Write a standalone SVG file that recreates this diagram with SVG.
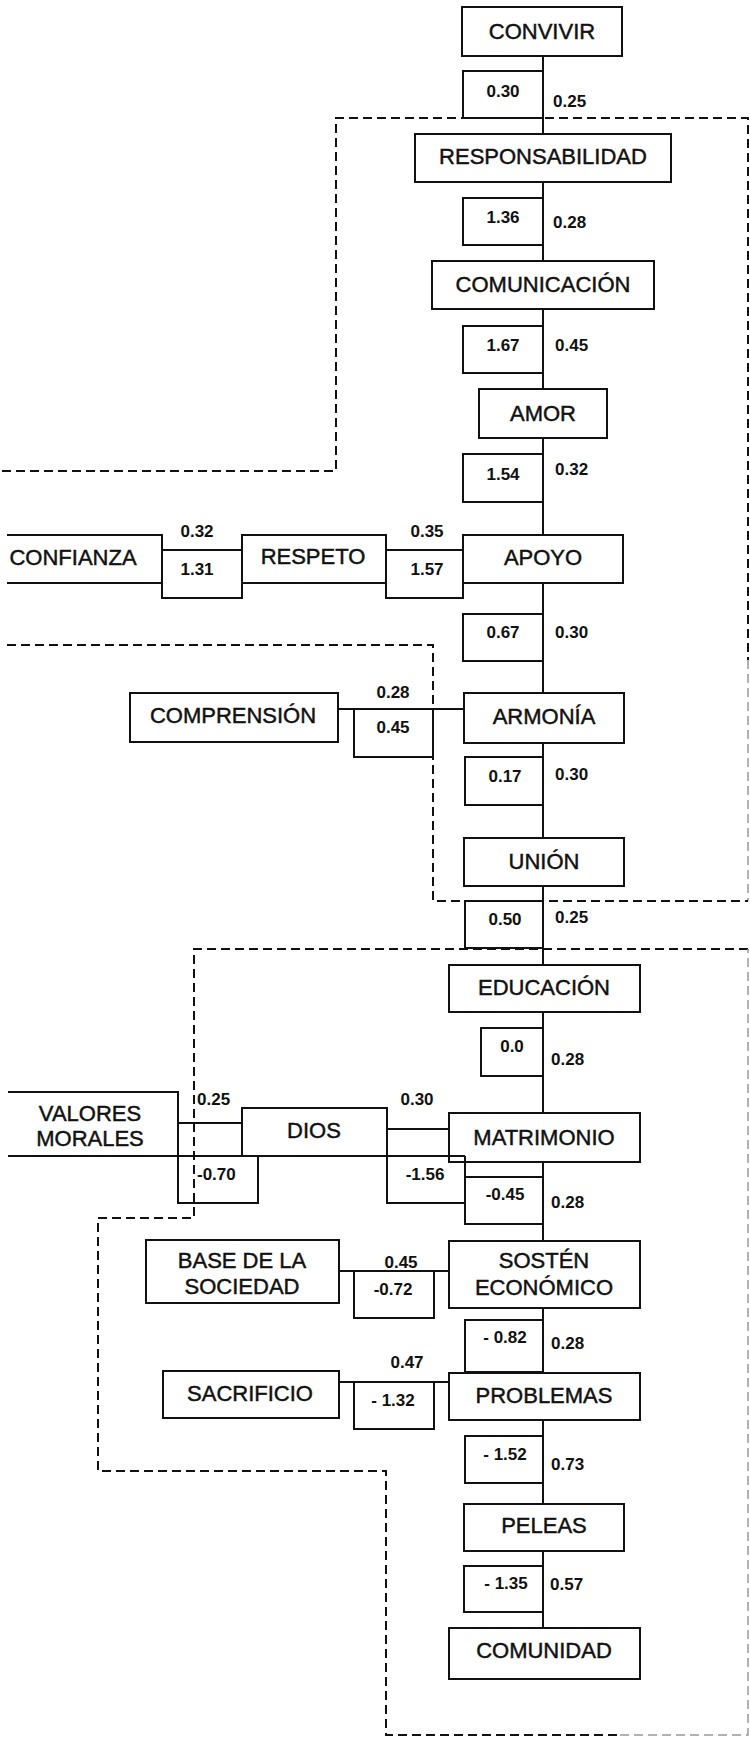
<svg xmlns="http://www.w3.org/2000/svg" width="750" height="1737" viewBox="0 0 750 1737">
<style>
.box{fill:#fff;stroke:#111;stroke-width:2}
.ln{fill:none;stroke:#111;stroke-width:2}
.dash{fill:none;stroke:#111;stroke-width:2;stroke-dasharray:9 5}
.faint{fill:none;stroke:#999;stroke-width:1.5;stroke-dasharray:9 5}
.lbl{font-family:"Liberation Sans",Arial,sans-serif;font-size:22px;text-anchor:middle;fill:#111;stroke:#111;stroke-width:0.45}
.num{font-family:"Liberation Sans",Arial,sans-serif;font-size:17px;font-weight:bold;fill:#111}
.c{text-anchor:middle}
</style>
<rect width="750" height="1737" fill="#fff"/>

<g id="regions">
<path class="dash" d="M2 471H336V118H748V660"/>
<path class="faint" d="M748 660V901"/>
<path class="dash" d="M7 645H433V901H748"/>
<path class="dash" d="M748 949H194V1218H98V1471H386V1735H620"/>
<path class="faint" d="M620 1735H748V949"/>
</g>

<g id="connectors">
<path class="ln" d="M543 56V134M543 182V261M543 309V389M543 438V535M543 583V693M543 743V838M543 886V965M543 1012V1113M543 1162V1241M543 1308V1373M543 1420V1504M543 1551V1628"/>
<path class="ln" d="M162 550H242M386 550H463M338 709H464M178 1123H242M387 1129H449M339 1271H449M339 1382H449"/>
</g>

<g id="weights">
<path class="ln" d="M543 71H463V118H543M543 198H463V245H543M543 326H463V373H543M543 454H463V502H543M543 614H463V661H543M543 757H465V805H543M543 901H465V948H543M543 1028H481V1076H543M543 1320H465V1372H543M543 1436H465V1483H543M543 1566H464V1612H543"/>
<path class="ln" d="M162 583V598H242V583M386 583V598H463V583M354 709V757H433V709M178 1156V1203H258V1156M387 1156V1203H465V1156M465 1156V1224H543M465 1177H543M354 1271V1318H434V1271M354 1382V1429H434V1382"/>
<text class="num c" x="503" y="97">0.30</text>
<text class="num" x="553" y="107">0.25</text>
<text class="num c" x="503" y="223">1.36</text>
<text class="num" x="553" y="228">0.28</text>
<text class="num c" x="503" y="351">1.67</text>
<text class="num" x="555" y="351">0.45</text>
<text class="num c" x="503" y="480">1.54</text>
<text class="num" x="555" y="475">0.32</text>
<text class="num c" x="197" y="537">0.32</text>
<text class="num c" x="197" y="575">1.31</text>
<text class="num c" x="427" y="537">0.35</text>
<text class="num c" x="427" y="575">1.57</text>
<text class="num c" x="503" y="638">0.67</text>
<text class="num" x="555" y="638">0.30</text>
<text class="num c" x="393" y="698">0.28</text>
<text class="num c" x="393" y="733">0.45</text>
<text class="num c" x="505" y="782">0.17</text>
<text class="num" x="555" y="780">0.30</text>
<text class="num c" x="505" y="925">0.50</text>
<text class="num" x="555" y="923">0.25</text>
<text class="num c" x="512" y="1052">0.0</text>
<text class="num" x="551" y="1065">0.28</text>
<text class="num" x="197" y="1105">0.25</text>
<text class="num" x="197" y="1180">-0.70</text>
<text class="num c" x="417" y="1105">0.30</text>
<text class="num c" x="425" y="1180">-1.56</text>
<text class="num c" x="505" y="1200">-0.45</text>
<text class="num" x="551" y="1208">0.28</text>
<text class="num c" x="401" y="1268">0.45</text>
<text class="num c" x="393" y="1295">-0.72</text>
<text class="num c" x="505" y="1343">- 0.82</text>
<text class="num" x="551" y="1349">0.28</text>
<text class="num c" x="407" y="1368">0.47</text>
<text class="num c" x="393" y="1406">- 1.32</text>
<text class="num c" x="505" y="1460">- 1.52</text>
<text class="num" x="551" y="1470">0.73</text>
<text class="num c" x="506" y="1589">- 1.35</text>
<text class="num" x="550" y="1590">0.57</text>
</g>

<g id="convivir"><rect class="box" x="462" y="7" width="160" height="49"/><text class="lbl" x="542" y="39">CONVIVIR</text></g>
<g id="responsabilidad"><rect class="box" x="415" y="134" width="256" height="48"/><text class="lbl" x="543" y="164">RESPONSABILIDAD</text></g>
<g id="comunicacion"><rect class="box" x="432" y="261" width="222" height="48"/><text class="lbl" x="543" y="292">COMUNICACIÓN</text></g>
<g id="amor"><rect class="box" x="479" y="389" width="128" height="49"/><text class="lbl" x="543" y="421">AMOR</text></g>
<g id="apoyo"><rect class="box" x="463" y="535" width="160" height="48"/><text class="lbl" x="543" y="565">APOYO</text></g>
<g id="confianza"><path class="ln" d="M7 535H162V583H7"/><text class="lbl" x="73" y="565">CONFIANZA</text></g>
<g id="respeto"><rect class="box" x="242" y="535" width="144" height="48"/><text class="lbl" x="313" y="564">RESPETO</text></g>
<g id="comprension"><rect class="box" x="130" y="693" width="208" height="49"/><text class="lbl" x="233" y="723">COMPRENSIÓN</text></g>
<g id="armonia"><rect class="box" x="464" y="693" width="160" height="50"/><text class="lbl" x="544" y="724">ARMONÍA</text></g>
<g id="union"><rect class="box" x="464" y="838" width="160" height="48"/><text class="lbl" x="544" y="869">UNIÓN</text></g>
<g id="educacion"><rect class="box" x="449" y="965" width="191" height="47"/><text class="lbl" x="544" y="995">EDUCACIÓN</text></g>
<g id="valores-morales"><path class="ln" d="M8 1092H178V1156M8 1156H465"/><text class="lbl" x="90" y="1121">VALORES</text><text class="lbl" x="90" y="1146">MORALES</text></g>
<g id="dios"><path class="ln" d="M242 1156V1108H387V1156"/><text class="lbl" x="314" y="1138">DIOS</text></g>
<g id="matrimonio"><rect x="449" y="1113" width="191" height="49" style="fill:none;stroke:#111;stroke-width:2"/><text class="lbl" x="544" y="1145">MATRIMONIO</text></g>
<g id="base-sociedad"><rect class="box" x="146" y="1240" width="193" height="63"/><text class="lbl" x="242" y="1268">BASE DE LA</text><text class="lbl" x="242" y="1294">SOCIEDAD</text></g>
<g id="sosten-economico"><rect class="box" x="449" y="1241" width="191" height="67"/><text class="lbl" x="544" y="1268">SOSTÉN</text><text class="lbl" x="544" y="1295">ECONÓMICO</text></g>
<g id="sacrificio"><rect class="box" x="163" y="1371" width="176" height="47"/><text class="lbl" x="250" y="1401">SACRIFICIO</text></g>
<g id="problemas"><rect class="box" x="449" y="1373" width="191" height="47"/><text class="lbl" x="544" y="1403">PROBLEMAS</text></g>
<g id="peleas"><rect class="box" x="464" y="1504" width="160" height="47"/><text class="lbl" x="544" y="1533">PELEAS</text></g>
<g id="comunidad"><rect class="box" x="449" y="1628" width="191" height="51"/><text class="lbl" x="544" y="1658">COMUNIDAD</text></g>
</svg>
